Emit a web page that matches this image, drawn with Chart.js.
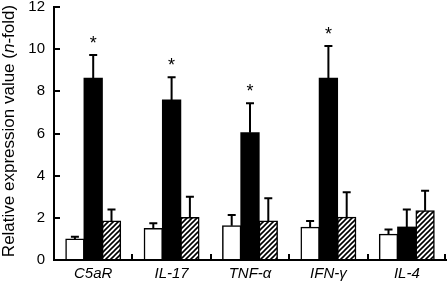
<!DOCTYPE html>
<html>
<head>
<meta charset="utf-8">
<script src="https://cdn.jsdelivr.net/npm/chart.js@4/dist/chart.umd.min.js"></script>
<style>
html,body{margin:0;padding:0;background:#fff;}
canvas{display:block;}
</style>
</head>
<body>
<canvas id="c" width="447" height="284"></canvas>
<script>
const categories = ['C5aR', 'IL-17', 'TNF-α', 'IFN-γ', 'IL-4'];
const controlValues = [1.0, 1.5, 1.63, 1.55, 1.22];
const controlErr = [0.1, 0.24, 0.5, 0.3, 0.23];
const treatedValues = [8.62, 7.59, 6.04, 8.62, 1.56];
const treatedErr = [1.1, 1.08, 1.39, 1.53, 0.84];
const hatchedValues = [1.85, 2.01, 1.85, 2.03, 2.34];
const hatchedErr = [0.55, 0.99, 1.08, 1.18, 0.95];
const significant = [true, true, true, true, false];
const yTicks = [0, 2, 4, 6, 8, 10, 12];

const FONT = '"Liberation Sans", Arial, Helvetica, sans-serif';

function makeHatch() {
  const s = 5;
  const p = document.createElement('canvas');
  p.width = s; p.height = s;
  const g = p.getContext('2d');
  g.fillStyle = '#fff';
  g.fillRect(0, 0, s, s);
  g.strokeStyle = '#000';
  g.lineWidth = 1.6;
  g.beginPath();
  g.moveTo(-1, s + 1); g.lineTo(s + 1, -1);
  g.moveTo(-1, 1); g.lineTo(1, -1);
  g.moveTo(s - 1, s + 1); g.lineTo(s + 1, s - 1);
  g.stroke();
  return g.createPattern(p, 'repeat');
}
const ctx0 = document.getElementById('c').getContext('2d');
const hatch = makeHatch();

const errors = [controlErr, treatedErr, hatchedErr];

const extras = {
  id: 'extras',
  afterDatasetsDraw(chart) {
    const ctx = chart.ctx;
    const y = chart.scales.y;
    ctx.save();
    ctx.strokeStyle = '#000';
    ctx.lineWidth = 2;
    chart.data.datasets.forEach((ds, di) => {
      const meta = chart.getDatasetMeta(di);
      meta.data.forEach((bar, i) => {
        const top = y.getPixelForValue(ds.data[i]);
        const et = y.getPixelForValue(ds.data[i] + errors[di][i]);
        ctx.beginPath();
        ctx.moveTo(bar.x, top);
        ctx.lineTo(bar.x, et);
        ctx.moveTo(bar.x - 4, et);
        ctx.lineTo(bar.x + 4, et);
        ctx.stroke();
        if (di === 1 && significant[i]) {
          ctx.fillStyle = '#000';
          ctx.font = '18px ' + FONT;
          ctx.textAlign = 'center';
          ctx.textBaseline = 'middle';
          ctx.fillText('*', bar.x, et - 11);
        }
      });
    });
    ctx.restore();
  },
  afterDraw(chart) {
    const ctx = chart.ctx;
    const y = chart.scales.y, x = chart.scales.x;
    const area = chart.chartArea;
    ctx.save();
    ctx.strokeStyle = '#000';
    ctx.lineWidth = 2;
    yTicks.forEach(v => {
      const py = Math.round(y.getPixelForValue(v));
      ctx.beginPath();
      ctx.moveTo(area.left, py);
      ctx.lineTo(area.left + 6, py);
      ctx.stroke();
    });
    for (let i = 1; i <= categories.length; i++) {
      let px;
      if (i === categories.length) px = area.right - 1;
      else px = (x.getPixelForValue(i - 1) + x.getPixelForValue(i)) / 2;
      px = Math.round(px);
      ctx.beginPath();
      ctx.moveTo(px, area.bottom);
      ctx.lineTo(px, area.bottom - 6);
      ctx.stroke();
    }
    const parts = [['Relative expression value (', ''], ['n', 'italic '], ['-fold)', '']];
    let total = 0;
    parts.forEach(p => { ctx.font = p[1] + '17px ' + FONT; p.push(ctx.measureText(p[0]).width); total += p[2]; });
    ctx.translate(9, 131);
    ctx.rotate(-Math.PI / 2);
    ctx.fillStyle = '#000';
    ctx.textBaseline = 'middle';
    ctx.textAlign = 'left';
    let cx = -total / 2;
    parts.forEach(p => { ctx.font = p[1] + '17px ' + FONT; ctx.fillText(p[0], cx, 0); cx += p[2]; });
    ctx.restore();
  }
};

new Chart(ctx0, {
  type: 'bar',
  data: {
    labels: categories,
    datasets: [
      { data: controlValues, backgroundColor: '#fff', borderColor: '#000', borderWidth: 1.5 },
      { data: treatedValues, backgroundColor: '#000', borderColor: '#000', borderWidth: 0 },
      { data: hatchedValues, backgroundColor: hatch, borderColor: '#000', borderWidth: 1.5 }
    ]
  },
  options: {
    responsive: false,
    devicePixelRatio: 1,
    animation: false,
    layout: { autoPadding: false, padding: { top: 7, right: 1, left: 0, bottom: 0 } },
    plugins: { legend: { display: false }, tooltip: { enabled: false }, title: { display: false } },
    datasets: { bar: { categoryPercentage: 0.7, barPercentage: 1.0, borderSkipped: false, inflateAmount: 0.5 } },
    scales: {
      x: {
        grid: { display: false, drawTicks: false },
        border: { display: true, color: '#000', width: 2 },
        ticks: { color: '#000', font: { family: FONT, size: 15, style: 'italic' }, padding: 5, maxRotation: 0 },
        afterFit(s) { s.height = 24; }
      },
      y: {
        min: 0, max: 12,
        grid: { display: false, drawTicks: false },
        border: { display: true, color: '#000', width: 2 },
        ticks: { stepSize: 2, color: '#000', font: { family: FONT, size: 15 }, padding: 9 },
        afterFit(s) { s.width = 54; s.paddingTop = 0; s.paddingBottom = 0; }
      }
    }
  },
  plugins: [extras]
});
</script>
</body>
</html>
